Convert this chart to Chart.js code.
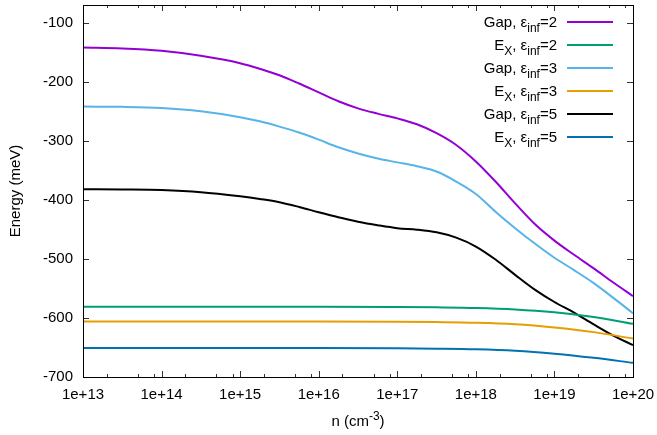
<!DOCTYPE html>
<html><head><meta charset="utf-8">
<script src="https://cdn.jsdelivr.net/npm/chart.js@4/dist/chart.umd.min.js"></script>
<style>html,body{margin:0;padding:0;background:#fff}#wrap{width:657px;height:435px;position:relative}</style>
</head><body><div id="wrap"><canvas id="c"></canvas></div>
<script>
// log10 of carrier density n (cm^-3)
const gapLogN = [13, 13.5, 14, 14.5, 15, 15.25, 15.5, 15.75, 16, 16.25, 16.5, 16.75, 17, 17.25, 17.5, 17.75, 18, 18.25, 18.5, 18.75, 19, 19.25, 19.5, 19.75, 20];
const gapEps2 = [-142, -143.5, -147.5, -156, -168.5, -178, -189, -203, -218, -233, -245, -254, -262, -272, -287, -307, -335, -369, -406, -441, -469, -493, -516, -540, -563];
const gapEps3 = [-242, -242.5, -244.5, -250, -260, -267, -276, -286, -298, -311, -321.5, -330, -336.5, -343, -352, -369, -390, -420, -448, -474, -498, -519, -541, -566, -592];
const gapEps5 = [-382, -382.5, -383.5, -387, -394, -398.5, -404, -412, -421, -429.5, -437, -443, -448, -450.5, -455, -464, -479, -501, -527, -552, -573, -591, -611, -630, -646];
const exLogN = [13, 14, 15, 16, 17, 17.5, 18, 18.5, 19, 19.5, 20];
const exEps2 = [-581, -581, -581, -581, -581.5, -582, -583, -585.5, -590.5, -598.5, -610];
const exEps3 = [-606, -606, -606, -606, -606.5, -607, -608, -610.5, -616, -624, -635];
const exEps5 = [-651, -651, -651, -651, -651.5, -652, -653, -655.5, -660.5, -667.5, -676];
const yTickValues = [-700, -600, -500, -400, -300, -200, -100];
const xTickExps = [13, 14, 15, 16, 17, 18, 19, 20];
const xMinorMult = [2, 5, 8];

const FONT = '"Liberation Sans", Arial, Helvetica, sans-serif';
const FS = 15;
const pts = (xs, ys) => xs.map((l, i) => ({x: Math.pow(10, l), y: ys[i]}));

const series = [
  {name: 'Gap', eps: '2', color: '#9400d3', data: pts(gapLogN, gapEps2)},
  {name: 'E', sub0: 'X', eps: '2', color: '#009e73', data: pts(exLogN, exEps2)},
  {name: 'Gap', eps: '3', color: '#56b4e9', data: pts(gapLogN, gapEps3)},
  {name: 'E', sub0: 'X', eps: '3', color: '#e69f00', data: pts(exLogN, exEps3)},
  {name: 'Gap', eps: '5', color: '#000000', data: pts(gapLogN, gapEps5)},
  {name: 'E', sub0: 'X', eps: '5', color: '#0072b2', data: pts(exLogN, exEps5)}
];

function drawParts(ctx, parts, xRight, yBase, size) {
  const widths = parts.map(p => {
    ctx.font = ((p.sub || p.sup) ? Math.round(size * 0.8) : size) + 'px ' + FONT;
    return ctx.measureText(p.t).width;
  });
  let x = xRight - widths.reduce((a, b) => a + b, 0);
  parts.forEach((p, i) => {
    ctx.font = ((p.sub || p.sup) ? Math.round(size * 0.8) : size) + 'px ' + FONT;
    const dy = p.sub ? size * 0.3 : (p.sup ? -size * 0.4 : 0);
    ctx.fillText(p.t, x, yBase + dy);
    x += widths[i];
  });
  return widths.reduce((a, b) => a + b, 0);
}

const framePlugin = {
  id: 'frame',
  afterDraw(chart) {
    const ctx = chart.ctx, a = chart.chartArea;
    const xs = chart.scales.x, ys = chart.scales.y;
    ctx.save();
    ctx.strokeStyle = '#333';
    ctx.lineWidth = 1;
    ctx.beginPath();
    xTickExps.forEach(e => {
      const px = Math.round(xs.getPixelForValue(Math.pow(10, e))) + 0.5;
      ctx.moveTo(px, a.bottom); ctx.lineTo(px, a.bottom - 6);
      ctx.moveTo(px, a.top); ctx.lineTo(px, a.top + 6);
      if (e < 20) xMinorMult.forEach(m => {
        const mx = Math.round(xs.getPixelForValue(m * Math.pow(10, e))) + 0.5;
        ctx.moveTo(mx, a.bottom); ctx.lineTo(mx, a.bottom - 3);
        ctx.moveTo(mx, a.top); ctx.lineTo(mx, a.top + 3);
      });
    });
    yTickValues.forEach(v => {
      const py = Math.round(ys.getPixelForValue(v)) + 0.5;
      ctx.moveTo(a.left, py); ctx.lineTo(a.left + 6, py);
      ctx.moveTo(a.right, py); ctx.lineTo(a.right - 6, py);
    });
    ctx.stroke();
    ctx.strokeStyle = '#000';
    ctx.strokeRect(Math.round(a.left) + 0.5, Math.round(a.top) + 0.5, Math.round(a.right - a.left), Math.round(a.bottom - a.top));
    // legend
    ctx.textBaseline = 'alphabetic';
    ctx.textAlign = 'left';
    series.forEach((s, i) => {
      const yc = 22 + i * 23;
      const parts = [{t: s.name}];
      if (s.sub0) parts.push({t: s.sub0, sub: true});
      parts.push({t: ', ε'}, {t: 'inf', sub: true}, {t: '=' + s.eps});
      ctx.fillStyle = '#000';
      drawParts(ctx, parts, a.right - 76, yc + 5, FS);
      ctx.strokeStyle = s.color;
      ctx.lineWidth = 2;
      ctx.beginPath();
      ctx.moveTo(a.right - 66, yc); ctx.lineTo(a.right - 20, yc);
      ctx.stroke();
    });
    // axis titles
    ctx.fillStyle = '#000';
    const xParts = [{t: 'n (cm'}, {t: '-3', sup: true}, {t: ')'}];
    let tw = 0;
    xParts.forEach(p => { ctx.font = (p.sup ? Math.round(FS * 0.8) : FS) + 'px ' + FONT; tw += ctx.measureText(p.t).width; });
    drawParts(ctx, xParts, (a.left + a.right) / 2 + tw / 2, 426, FS);
    ctx.translate(16, (a.top + a.bottom) / 2);
    ctx.rotate(-Math.PI / 2);
    ctx.font = FS + 'px ' + FONT;
    ctx.textAlign = 'center';
    ctx.textBaseline = 'middle';
    ctx.fillText('Energy (meV)', 0, 0);
    ctx.restore();
  }
};

new Chart(document.getElementById('c'), {
  type: 'line',
  data: {
    datasets: series.map(s => ({
      label: s.name + ' eps=' + s.eps,
      data: s.data,
      borderColor: s.color,
      backgroundColor: s.color,
      borderWidth: 2,
      pointRadius: 0,
      fill: false,
      cubicInterpolationMode: 'monotone'
    }))
  },
  options: {
    responsive: true,
    maintainAspectRatio: false,
    animation: false,
    devicePixelRatio: 1,
    layout: {padding: {top: 5, right: 24, left: 0, bottom: 0}},
    plugins: {legend: {display: false}, tooltip: {enabled: false}},
    scales: {
      x: {
        type: 'logarithmic',
        min: 1e13, max: 1e20,
        grid: {display: false, drawTicks: false},
        border: {display: false},
        ticks: {
          color: '#000', font: {family: FONT, size: FS}, padding: 9,
          maxRotation: 0, autoSkip: false,
          callback: v => '1e+' + Math.round(Math.log10(v))
        },
        afterBuildTicks: sc => { sc.ticks = xTickExps.map(e => ({value: Math.pow(10, e)})); },
        afterFit: sc => { sc.height = 58; sc.paddingLeft = 0; sc.paddingRight = 0; }
      },
      y: {
        type: 'linear',
        min: -700, max: -70,
        grid: {display: false, drawTicks: false},
        border: {display: false},
        ticks: {color: '#000', font: {family: FONT, size: FS}, padding: 10},
        afterBuildTicks: sc => { sc.ticks = yTickValues.map(v => ({value: v})); },
        afterFit: sc => { sc.width = 83; sc.paddingTop = 0; sc.paddingBottom = 0; }
      }
    }
  },
  plugins: [framePlugin]
});
</script>
</body></html>
